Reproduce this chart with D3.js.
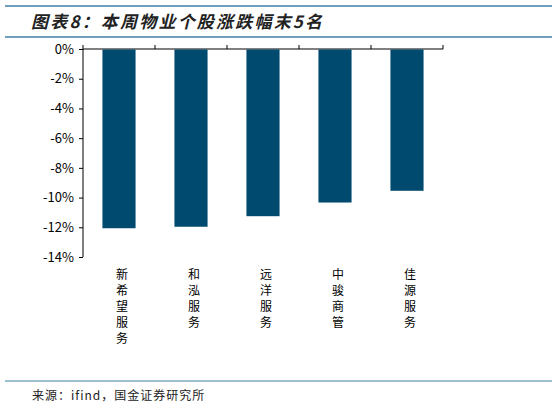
<!DOCTYPE html>
<html><head><meta charset="utf-8">
<script src="https://cdn.jsdelivr.net/npm/d3@7"></script>
<style>body{margin:0;background:#fff}text{font-family:"Noto Sans CJK SC",Arial,sans-serif}</style>
</head><body><svg id="c" width="559" height="409"></svg>
<script>
var categories = ["新希望服务", "和泓服务", "远洋服务", "中骏商管", "佳源服务"];
var values = [-12.03, -11.93, -11.22, -10.30, -9.51];
var yTicks = [0, -2, -4, -6, -8, -10, -12, -14];

var svg = d3.select("#c");
var lineColor = "#3f7fa3";
svg.append("line").attr("x1", 5).attr("x2", 552).attr("y1", 6).attr("y2", 6).attr("stroke", lineColor).attr("stroke-width", 1.5);
svg.append("line").attr("x1", 5).attr("x2", 552).attr("y1", 37).attr("y2", 37).attr("stroke", lineColor).attr("stroke-width", 1.5);
svg.append("line").attr("x1", 5).attr("x2", 552).attr("y1", 381).attr("y2", 381).attr("stroke", lineColor).attr("stroke-width", 1);
svg.append("text").attr("x", 31).attr("y", 28).attr("font-size", 17).attr("font-weight", "bold")
  .attr("font-style", "italic").attr("letter-spacing", 2.2).attr("fill", "#222").text("图表8：本周物业个股涨跌幅末5名");
svg.append("text").attr("x", 32).attr("y", 400).attr("font-size", 12).attr("letter-spacing", 1).attr("fill", "#222").text("来源：ifind，国金证券研究所");

var x = d3.scaleBand().domain(categories).range([83, 443]).paddingInner(0.54).paddingOuter(0.27);
var y = d3.scaleLinear().domain([-14, 0]).range([257, 49]);

svg.append("g").attr("transform", "translate(83,0)")
  .call(d3.axisLeft(y).tickValues(yTicks).tickSize(4).tickFormat(function(d){ return d + "%"; }))
  .call(function(g){ g.selectAll("text").attr("font-size", 13).attr("font-family", "Arial, Liberation Sans").attr("fill", "#000").attr("dx", -2); g.selectAll("line,path").attr("stroke", "#000"); g.select(".domain").attr("d", "M0,49V257"); });

var xa = svg.append("g").attr("transform", "translate(0,49)");
xa.append("line").attr("x1", 83).attr("x2", 443).attr("stroke", "#000");
xa.selectAll(".tk").data(d3.range(categories.length + 1)).enter().append("line")
  .attr("x1", function(i){ return 83 + i * 72; }).attr("x2", function(i){ return 83 + i * 72; })
  .attr("y1", 0).attr("y2", -4).attr("stroke", "#000");

svg.selectAll(".bar").data(values).enter().append("rect")
  .attr("x", function(d, i){ return x(categories[i]); }).attr("width", x.bandwidth())
  .attr("y", y(0) + 0.5).attr("height", function(d){ return y(d) - y(0); })
  .attr("fill", "#004a70");

categories.forEach(function(c, i){
  var t = svg.append("text").attr("font-size", 12).attr("text-anchor", "middle").attr("fill", "#000");
  c.split("").forEach(function(ch, j){
    t.append("tspan").attr("x", x(c) + x.bandwidth() / 2 + 3).attr("y", 279 + j * 16).text(ch);
  });
});
</script></body></html>
